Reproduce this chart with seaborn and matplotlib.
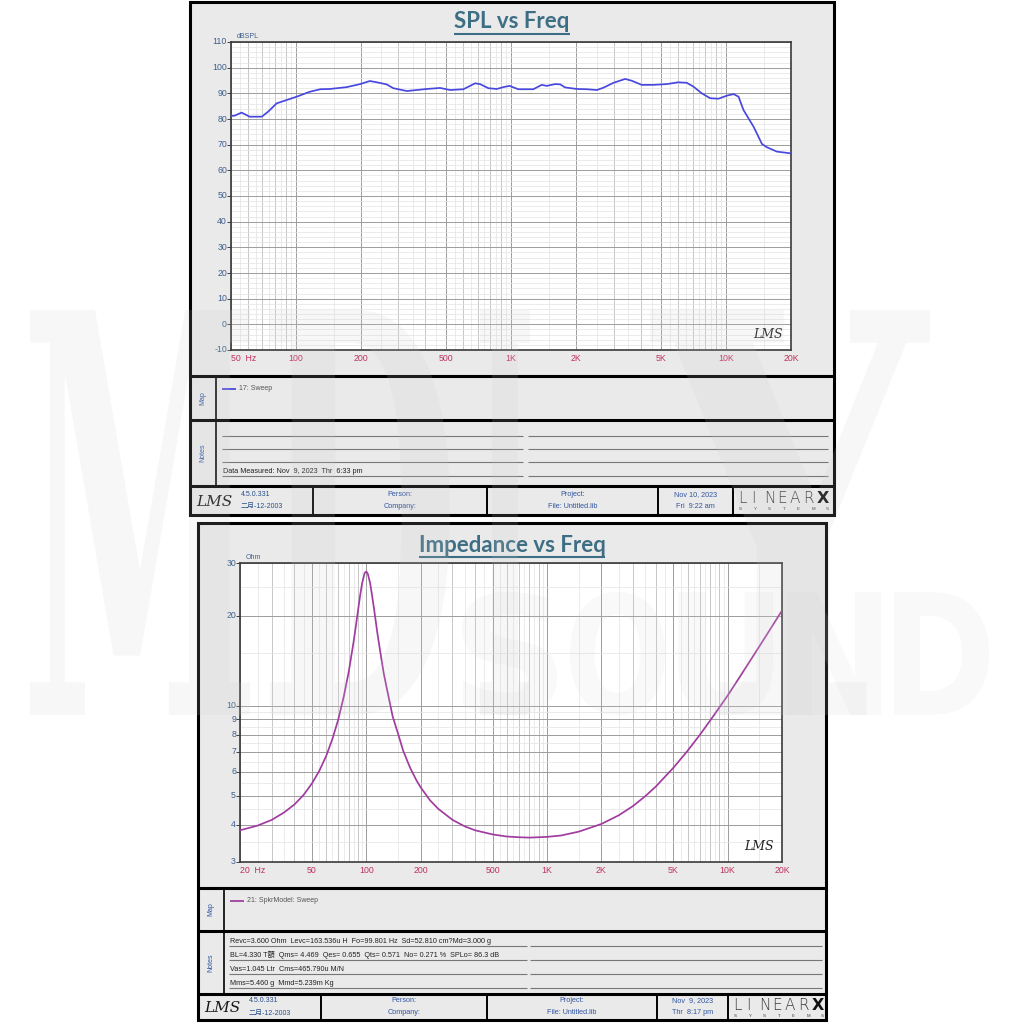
import matplotlib
matplotlib.use("Agg")
import numpy as np
import pandas as pd
import matplotlib.pyplot as plt
import seaborn as sns
from matplotlib.patches import Rectangle, PathPatch
from matplotlib.textpath import TextPath
from matplotlib.font_manager import FontProperties
from matplotlib.transforms import Affine2D, offset_copy

# ---------------- data ----------------
spl_freq_hz = [50, 52, 56, 61, 69.5, 74.5, 81.5, 90.7, 101, 116, 130, 144, 172, 199, 221, 238,
               264, 284, 328, 365, 406, 468, 521, 601, 681, 718, 785, 859, 930, 985, 1081,
               1270, 1389, 1466, 1603, 1692, 1784, 2022, 2250, 2506, 2690, 2993, 3392, 3642,
               4048, 4585, 5290, 5993, 6558, 7044, 7700, 8420, 9200, 10070, 10820, 11410,
               12030, 13400, 14650, 15450, 17190, 20000]
spl_db = [81.2, 81.3, 82.5, 80.9, 80.9, 82.9, 86.1, 87.4, 88.7, 90.6, 91.6, 91.7, 92.4, 93.6,
          94.8, 94.3, 93.5, 92.0, 90.9, 91.3, 91.7, 92.1, 91.3, 91.6, 93.9, 93.6, 92.0, 91.7,
          92.5, 92.9, 91.6, 91.6, 93.3, 92.9, 93.6, 93.5, 92.3, 91.7, 91.6, 91.3, 92.2, 94.1,
          95.6, 94.9, 93.3, 93.3, 93.6, 94.3, 94.1, 92.6, 90.0, 88.1, 87.9, 89.1, 89.7, 88.7,
          83.5, 77.0, 70.3, 69.0, 67.3, 66.6]
spl_yticks = [-10, 0, 10, 20, 30, 40, 50, 60, 70, 80, 90, 100, 110]
spl_xtick_vals = [50, 100, 200, 500, 1000, 2000, 5000, 10000, 20000]
spl_xtick_labels = ["50  Hz", "100", "200", "500", "1K", "2K", "5K", "10K", "20K"]

imp_freq_hz = [20, 25, 30, 35, 40, 45, 50, 55, 60, 65, 70, 75, 80, 85, 87.5, 90, 92.5, 95, 98,
               100, 102, 105, 107.5, 110, 112.5, 115, 120, 125, 130, 140, 150, 160, 175, 190,
               200, 225, 250, 300, 350, 400, 500, 600, 700, 800, 1000, 1200, 1500, 2000, 2500,
               3000, 3500, 4000, 5000, 6000, 7000, 8000, 10000, 12000, 15000, 17000, 20000]
imp_ohm = [3.83, 3.97, 4.15, 4.39, 4.67, 5.03, 5.49, 6.06, 6.79, 7.75, 9.0, 10.7, 13.0, 16.3,
           18.4, 20.8, 23.4, 25.8, 27.8, 28.1, 27.6, 25.7, 23.5, 21.4, 19.4, 17.6, 14.9, 12.8,
           11.4, 9.2, 8.05, 7.07, 6.19, 5.61, 5.33, 4.83, 4.52, 4.15, 3.95, 3.83, 3.71, 3.65,
           3.63, 3.62, 3.64, 3.68, 3.79, 4.02, 4.30, 4.62, 4.98, 5.36, 6.19, 7.06, 7.97, 8.91,
           10.8, 12.8, 15.8, 17.8, 20.8]
imp_yticks = [3, 4, 5, 6, 7, 8, 9, 10, 20, 30]
imp_xtick_vals = [20, 50, 100, 200, 500, 1000, 2000, 5000, 10000, 20000]
imp_xtick_labels = ["20  Hz", "50", "100", "200", "500", "1K", "2K", "5K", "10K", "20K"]

spl_title = "SPL vs Freq"
imp_title = "Impedance vs Freq"
spl_unit = "dBSPL"
imp_unit = "Ohm"
spl_legend = "17: Sweep"
imp_legend = "21: SpkrModel: Sweep"
spl_notes = ["", "", "", "Data Measured: Nov  9, 2023  Thr  6:33 pm"]
imp_notes = ["Revc=3.600 Ohm  Levc=163.536u H  Fo=99.801 Hz  Sd=52.810 cm?Md=3.000 g",
             "BL=4.330 T額  Qms= 4.469  Qes= 0.655  Qts= 0.571  No= 0.271 %  SPLo= 86.3 dB",
             "Vas=1.045 Ltr  Cms=465.790u M/N",
             "Mms=5.460 g  Mmd=5.239m Kg"]
footer_version = ["4.5.0.331", "二月-12-2003"]
footer_person = ["Person:", "Company:"]
footer_project = ["Project:", "File: Untitled.lib"]
spl_date = ["Nov 10, 2023", "Fri  9:22 am"]
imp_date = ["Nov  9, 2023", "Thr  8:17 pm"]

# ---------------- style ----------------
sns.set_theme(style="white")
plt.rcParams['font.family'] = ['DejaVu Sans', 'Noto Sans CJK SC']

W = H = 1024
fig = plt.figure(figsize=(10.24, 10.24), dpi=100)
fig.patch.set_facecolor('white')
bg = fig.add_axes([0, 0, 1, 1], zorder=0)
bg.set_xlim(0, W); bg.set_ylim(H, 0); bg.axis('off')

PANEL = '#eaeaea'
TITLE_C = '#3e6e84'
YLAB_C = '#3d5f8c'
XLAB_C = '#c0305c'
BLUE_C = '#2f55a0'
GRID_D = '#9c9c9c'
GRID_M = '#bebebe'
GRID_L = '#e3e3e3'
SMALL = ['Liberation Sans', 'Noto Sans CJK SC']


def rect(x0, y0, x1, y1, fc='none', ec='black', lw=1.0, z=1):
    bg.add_patch(Rectangle((x0, y0), x1 - x0, y1 - y0, facecolor=fc, edgecolor=ec,
                           linewidth=lw, zorder=z))


def seg(xa, xb, ya, yb, color='black', lw=1.0, z=3):
    bg.plot([xa, xb], [ya, yb], color=color, lw=lw, zorder=z, solid_capstyle='butt')


def txt(x, y, s, **kw):
    kw.setdefault('zorder', 5)
    return bg.text(x, y, s, **kw)


renderer = fig.canvas.get_renderer()


def title(xc, yc, s, uy):
    t = txt(xc, yc, s, ha='center', va='center', fontsize=16, fontweight='bold',
            color=TITLE_C, family=['Lato', 'DejaVu Sans'])
    bb = t.get_window_extent(renderer=renderer)
    inv = bg.transData.inverted()
    (xa, _), (xb, _) = inv.transform([[bb.x0, bb.y0], [bb.x1, bb.y1]])
    seg(xa, xb, uy, uy, color=TITLE_C, lw=1.5, z=5)


def freq_lines(lo, hi):
    dark, mid, light = [], [], []
    dec = 1
    while dec <= hi:
        for n in range(1, 10):
            v = n * dec
            if lo <= v <= hi:
                (dark if n in (1, 2, 5) else mid).append(v)
            h = (n + 0.5) * dec
            if lo < h < hi:
                light.append(h)
        dec *= 10
    return dark, mid, light


def plot_area(rect_px, xs, ys, color, xlim, ylim, ylog, xtv, xtl, ytv, unit):
    x0, y0, x1, y1 = rect_px
    ax = fig.add_axes([x0 / W, 1 - y1 / H, (x1 - x0) / W, (y1 - y0) / H], zorder=2)
    ax.set_facecolor('white')
    ax.set_xscale('log')
    if ylog:
        ax.set_yscale('log')
    dark, mid, light = freq_lines(*xlim)
    for v in light:
        ax.axvline(v, color=GRID_L, lw=0.5, zorder=0)
    for v in mid:
        ax.axvline(v, color=GRID_M, lw=0.6, zorder=0)
    for v in dark:
        ax.axvline(v, color=GRID_D, lw=0.7, zorder=0)
    if ylog:
        ymin = [3.5, 4.5, 5.5, 6.5, 7.5, 8.5, 9.5, 15, 25]
    else:
        ymin = [v for v in range(ylim[0], ylim[1]) if v % 2 == 0 and v % 10 != 0]
    for v in ymin:
        ax.axhline(v, color=GRID_L, lw=0.5, zorder=0)
    for v in ytv:
        ax.axhline(v, color=GRID_D, lw=0.7, zorder=0)
    df = pd.DataFrame({'f': xs, 'v': ys})
    sns.lineplot(data=df, x='f', y='v', ax=ax, color=color, lw=1.25, zorder=5)
    ax.set_xlim(*xlim); ax.set_ylim(*ylim)
    ax.set_xlabel(''); ax.set_ylabel('')
    ax.xaxis.set_major_locator(matplotlib.ticker.NullLocator())
    ax.xaxis.set_minor_locator(matplotlib.ticker.NullLocator())
    ax.yaxis.set_major_locator(matplotlib.ticker.FixedLocator(ytv))
    ax.yaxis.set_minor_locator(matplotlib.ticker.NullLocator())
    ax.tick_params(axis='y', which='major', length=3, width=0.7, color='#404040',
                   direction='out', labelleft=False, left=True)
    for sp in ax.spines.values():
        sp.set_color('#3a3a3a'); sp.set_linewidth(1.2); sp.set_visible(True)
    tx = offset_copy(ax.get_xaxis_transform(), fig=fig, y=-4, units='dots')
    for v, l in zip(xtv, xtl):
        ha = 'left' if 'Hz' in l else 'center'
        ax.text(v, 0, l, transform=tx, ha=ha, va='top', fontsize=6.3, color=XLAB_C,
                family=SMALL, clip_on=False)
    ty = offset_copy(ax.get_yaxis_transform(), fig=fig, x=-4, units='dots')
    for v in ytv:
        ax.text(0, v, str(v), transform=ty, ha='right', va='center', fontsize=6.3,
                color=YLAB_C, family=SMALL, clip_on=False)
    ax.text(0.01, 1.0, unit, transform=offset_copy(ax.transAxes, fig=fig, y=2, units='dots'),
            ha='left', va='bottom', fontsize=5, color=YLAB_C, family=SMALL, clip_on=False)
    ax.text(0.985, 0.03, 'LMS', transform=ax.transAxes, ha='right', va='bottom',
            fontsize=9, style='italic', color='#202020', family=['DejaVu Serif'])
    return ax


def panel(box, tpos, tstr, uy, prect, map_y, notes_y, foot_y, colw, legend_text, lcolor,
          notes, note_cols, note_ys, foot_x, date, data):
    X0, Y0, X1, Y1 = box
    rect(X0, Y0, X1, Y1, fc=PANEL, ec='black', lw=2.2, z=1)
    title(tpos[0], tpos[1], tstr, uy)
    plot_area(prect, *data)
    for yy in (map_y, notes_y, foot_y):
        seg(X0, X1, yy, yy, lw=2.2)
    seg(colw, colw, map_y, foot_y, lw=1.2)
    # Map
    txt((X0 + colw) / 2, (map_y + notes_y) / 2, 'Map', rotation=90, ha='center', va='center',
        fontsize=5, color=BLUE_C, family=SMALL)
    ly = map_y + 13
    seg(colw + 6, colw + 20, ly, ly, color=lcolor, lw=1.3)
    txt(colw + 23, ly, legend_text, ha='left', va='center', fontsize=5, color='#555555',
        family=SMALL)
    # Notes
    txt((X0 + colw) / 2, (notes_y + foot_y) / 2, 'Notes', rotation=90, ha='center',
        va='center', fontsize=5, color=BLUE_C, family=SMALL)
    (la, lb), (ra, rb) = note_cols
    for yy, s in zip(note_ys, notes):
        seg(la, lb, yy, yy, color='#777777', lw=0.8)
        seg(ra, rb, yy, yy, color='#777777', lw=0.8)
        if s:
            txt(la + 1, yy - 1, s, ha='left', va='bottom', fontsize=5.2, color='#222222',
                family=SMALL)
    # Footer
    for xx in foot_x:
        seg(xx, xx, foot_y, Y1, lw=1.4)
    fm = (foot_y + Y1) / 2
    r1, r2 = fm - 6, fm + 6
    txt(X0 + 6, fm + 1, 'LMS', ha='left', va='center', fontsize=11, style='italic',
        color='#1a1a1a', family=['DejaVu Serif'])
    txt(X0 + 51, r1, footer_version[0], ha='left', va='center', fontsize=5,
        color='#2a4f8a', family=SMALL)
    txt(X0 + 51, r2, footer_version[1], ha='left', va='center', fontsize=5,
        color='#2a4f8a', family=SMALL)
    cells = [(foot_x[0], foot_x[1], footer_person), (foot_x[1], foot_x[2], footer_project),
             (foot_x[2], foot_x[3], date)]
    for a, b, lines in cells:
        txt((a + b) / 2, r1, lines[0], ha='center', va='center', fontsize=5.2, color=BLUE_C,
            family=SMALL)
        txt((a + b) / 2, r2, lines[1], ha='center', va='center', fontsize=5.2, color=BLUE_C,
            family=SMALL)
    lx = foot_x[3] + 5
    for i, ch in enumerate("LINEAR"):
        txt(lx + i * 13, fm - 2, ch, ha='left', va='center', fontsize=11, color='#3a3a3a',
            family=['DejaVu Sans'], fontweight='light')
    txt(lx + 79, fm - 2, 'X', ha='left', va='center', fontsize=11.5, color='#111111',
        fontweight='bold', family=['DejaVu Sans'])
    for i, ch in enumerate("SYSTEMS"):
        txt(lx + 1 + i * 14.5, fm + 9, ch, ha='left', va='center', fontsize=3.2,
            color='#3a3a3a', family=SMALL)


panel(box=(190, 2, 834, 515), tpos=(512, 22), tstr=spl_title, uy=34,
      prect=(231, 42, 791, 350), map_y=376, notes_y=420, foot_y=486, colw=216,
      legend_text=spl_legend, lcolor='#4a4ae0', notes=spl_notes,
      note_cols=((222, 523), (528, 828)), note_ys=[436, 449, 462, 476],
      foot_x=[313, 487, 658, 733], date=spl_date,
      data=(spl_freq_hz, spl_db, '#4848e0', (50, 20000), (-10, 110), False,
            spl_xtick_vals, spl_xtick_labels, spl_yticks, spl_unit))

panel(box=(198, 523, 826, 1020), tpos=(512, 545), tstr=imp_title, uy=557,
      prect=(240, 563, 782, 862), map_y=888, notes_y=931, foot_y=994, colw=224,
      legend_text=imp_legend, lcolor='#a040a0', notes=imp_notes,
      note_cols=((229, 527), (530, 822)), note_ys=[946, 960, 974, 988],
      foot_x=[321, 487, 657, 728], date=imp_date,
      data=(imp_freq_hz, imp_ohm, '#a03ca0', (20, 20000), (3, 30), True,
            imp_xtick_vals, imp_xtick_labels, imp_yticks, imp_unit))

# ---------------- faint watermark ----------------
wm = fig.add_axes([0, 0, 1, 1], zorder=10)
wm.set_xlim(0, W); wm.set_ylim(H, 0); wm.axis('off'); wm.patch.set_alpha(0)
fp = FontProperties(family='DejaVu Serif', weight='bold')
fp2 = FontProperties(family='DejaVu Sans', weight='bold')


def wm_letter(ch, x0, y0, x1, y1, prop, alpha):
    tp = TextPath((0, 0), ch, size=1, prop=prop)
    bb = tp.get_extents()
    tr = (Affine2D().translate(-bb.x0, -bb.y0)
          .scale((x1 - x0) / bb.width, -(y1 - y0) / bb.height).translate(x0, y1))
    wm.add_patch(PathPatch(tr.transform_path(tp), fc='#cfcfcf', ec='none', alpha=alpha))


for ch, bx in zip("MDIY", [(30, 250), (270, 450), (480, 530), (650, 930)]):
    wm_letter(ch, bx[0], 310, bx[1], 715, fp, 0.15)
for i, ch in enumerate("SOUND"):
    wm_letter(ch, 462 + i * 108, 592, 462 + i * 108 + 95, 715, fp2, 0.12)

fig.savefig('out.png', dpi=100, facecolor='white')
